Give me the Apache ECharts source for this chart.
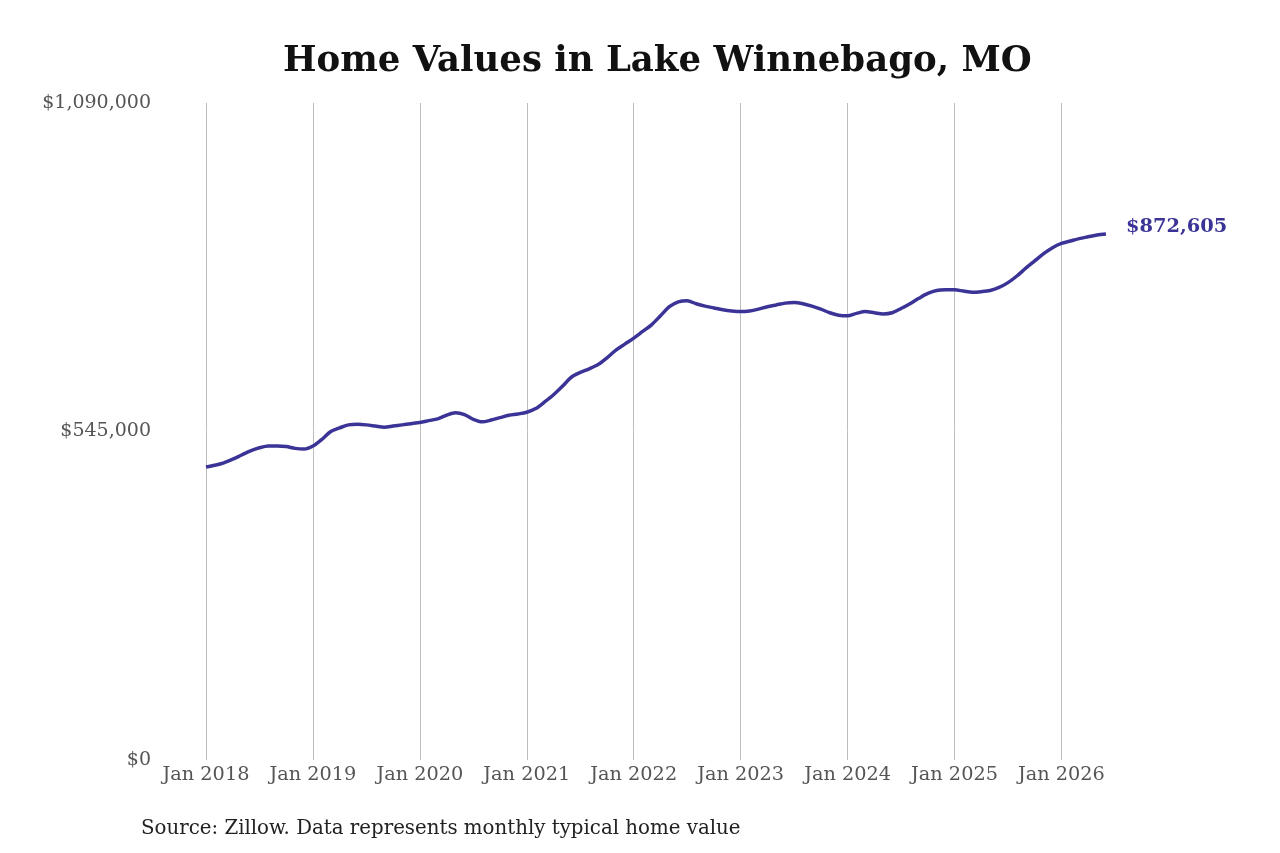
<!DOCTYPE html>
<html lang="en">
<head>
    <meta charset="UTF-8">
    <title>Home Values in Lake Winnebago, MO</title>
    <script src="https://cdn.jsdelivr.net/npm/echarts@6/dist/echarts.min.js"></script>
    <style>
        html, body {margin: 0; padding: 0; background: #fff;}
        #main {width: 1280px; height: 853px;}
    </style>
</head>
<body>
    <div id="main"></div>
    <script>
        var years = ['2018', '2019', '2020', '2021', '2022', '2023', '2024', '2025', '2026'];
        var monthNames = ['Jan', 'Feb', 'Mar', 'Apr', 'May', 'Jun', 'Jul', 'Aug', 'Sep', 'Oct', 'Nov', 'Dec'];
        // monthly typical home value (Jan 2018 .. Jun 2026)
        var values2018 = [486000, 489000, 493000, 499000, 506000, 513000, 518000, 521000, 521000, 520000, 517000, 516000];
        var values2019 = [521000, 532000, 545000, 551000, 556000, 557000, 556000, 554000, 552000, 554000, 556000, 558000];
        var values2020 = [560000, 563000, 566000, 572000, 576000, 573000, 565000, 561000, 564000, 568000, 572000, 574000];
        var values2021 = [577000, 583000, 594000, 606000, 620000, 635000, 643000, 649000, 656000, 667000, 680000, 690000];
        var values2022 = [700000, 711000, 722000, 737000, 752000, 760000, 762000, 757000, 753000, 750000, 747000, 745000];
        var values2023 = [744000, 745000, 748000, 752000, 755000, 758000, 759000, 757000, 753000, 748000, 742000, 738000];
        var values2024 = [737000, 741000, 744000, 742000, 740000, 742000, 749000, 757000, 766000, 774000, 779000, 780000];
        var values2025 = [780000, 778000, 776000, 777000, 779000, 784000, 792000, 803000, 816000, 828000, 840000, 850000];
        var values2026 = [857000, 861000, 865000, 868000, 871000, 872605];
        var yTicks = [0, 545000, 1090000];

        var allValues = [].concat(values2018, values2019, values2020, values2021, values2022,
            values2023, values2024, values2025, values2026);
        var months = [];
        for (var i = 0; i < allValues.length; i++) {
            months.push(monthNames[i % 12] + ' ' + years[Math.floor(i / 12)]);
        }

        function money(v) {
            return '$' + Number(v).toLocaleString('en-US');
        }

        var myChart = echarts.init(document.getElementById('main'));
        var option = {
            backgroundColor: '#fff',
            animation: false,
            textStyle: {fontFamily: 'DejaVu Serif'},
            title: {
                text: 'Home Values in Lake Winnebago, MO',
                left: 283,
                top: 44,
                padding: 0,
                textStyle: {fontFamily: 'DejaVu Serif', fontWeight: 'bold', fontSize: 35.5, color: '#111'}
            },
            graphic: [{
                type: 'text',
                left: 141,
                top: 819,
                style: {
                    text: 'Source: Zillow. Data represents monthly typical home value',
                    font: '19.8px "DejaVu Serif"',
                    fill: '#222'
                }
            }],
            grid: {left: 206, right: 174, top: 103, bottom: 93, containLabel: false},
            xAxis: {
                type: 'category',
                data: months,
                boundaryGap: false,
                axisLine: {show: false},
                axisTick: {show: false},
                axisLabel: {
                    interval: function (index) { return index % 12 === 0; },
                    color: '#555',
                    fontSize: 19.3,
                    margin: 5
                },
                splitLine: {
                    show: true,
                    interval: function (index) { return index % 12 === 0; },
                    lineStyle: {color: '#bdbdbd', width: 1}
                }
            },
            yAxis: {
                type: 'value',
                min: yTicks[0],
                max: yTicks[2],
                interval: yTicks[1],
                axisLine: {show: false},
                axisTick: {show: false},
                splitLine: {show: false},
                axisLabel: {
                    color: '#555',
                    fontSize: 19,
                    margin: 55,
                    formatter: money
                }
            },
            series: [{
                name: 'Home value',
                type: 'line',
                data: allValues,
                smooth: 0.3,
                showSymbol: false,
                lineStyle: {color: '#3b3496', width: 3.5},
                itemStyle: {color: '#3b3496'},
                endLabel: {
                    show: true,
                    distance: 20,
                    formatter: function (p) { return money(p.value); },
                    color: '#3b3496',
                    fontWeight: 'bold',
                    fontSize: 19.4,
                    fontFamily: 'DejaVu Serif',
                    offset: [0, -7]
                }
            }]
        };
        myChart.setOption(option);
    </script>
</body>
</html>
